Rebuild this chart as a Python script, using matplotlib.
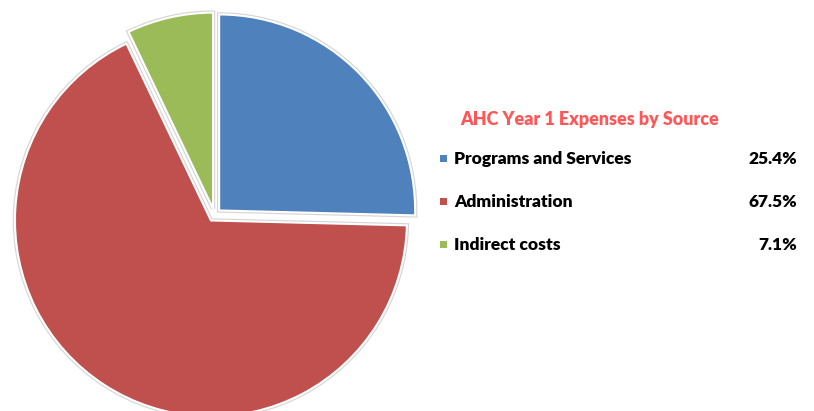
import matplotlib
matplotlib.use("Agg")
import matplotlib.pyplot as plt

categories = ["Programs and Services", "Administration", "Indirect costs"]
values = [25.4, 67.5, 7.1]
labels_pct = ["25.4%", "67.5%", "7.1%"]
colors = ["#4F81BD", "#C0504D", "#9BBB59"]
title = "AHC Year 1 Expenses by Source"

W, H = 814, 411
fig = plt.figure(figsize=(W / 100, H / 100), dpi=100)
ax = fig.add_axes([0, 0, 1, 1])

cx, cy = 214.5, H - 215
R = 196
explode = [6.5] * 3  # matplotlib explode offsets are in data units

# soft grey outline (shadow-like) under the slices
ax.pie(values, colors=colors, startangle=90, counterclock=False,
       explode=explode, radius=R, center=(cx, cy),
       wedgeprops=dict(edgecolor="#d6d6d6", linewidth=3.2))
ax.pie(values, colors=colors, startangle=90, counterclock=False,
       explode=explode, radius=R, center=(cx, cy),
       wedgeprops=dict(edgecolor="white", linewidth=1.5))

ax.set_xlim(0, W)
ax.set_ylim(0, H)
ax.set_aspect("equal", adjustable="box")
ax.axis("off")

font = "Lato"
ax.text(590, H - 120, title, ha="center", va="center", fontsize=12.85,
        fontweight="heavy", color="#FF5757", family=font)

rows_y = [159, 202, 245]
for name, pct, col, y in zip(categories, labels_pct, colors, rows_y):
    ax.add_patch(plt.Rectangle((440, H - y - 3.5), 7, 7, color=col, lw=0))
    ax.text(454, H - y, name, ha="left", va="center", fontsize=12.5,
            fontweight="heavy", color="black", family=font)
    ax.text(797, H - y, pct, ha="right", va="center", fontsize=12.5,
            fontweight="heavy", color="black", family=font)

fig.savefig("out.png", dpi=100)
